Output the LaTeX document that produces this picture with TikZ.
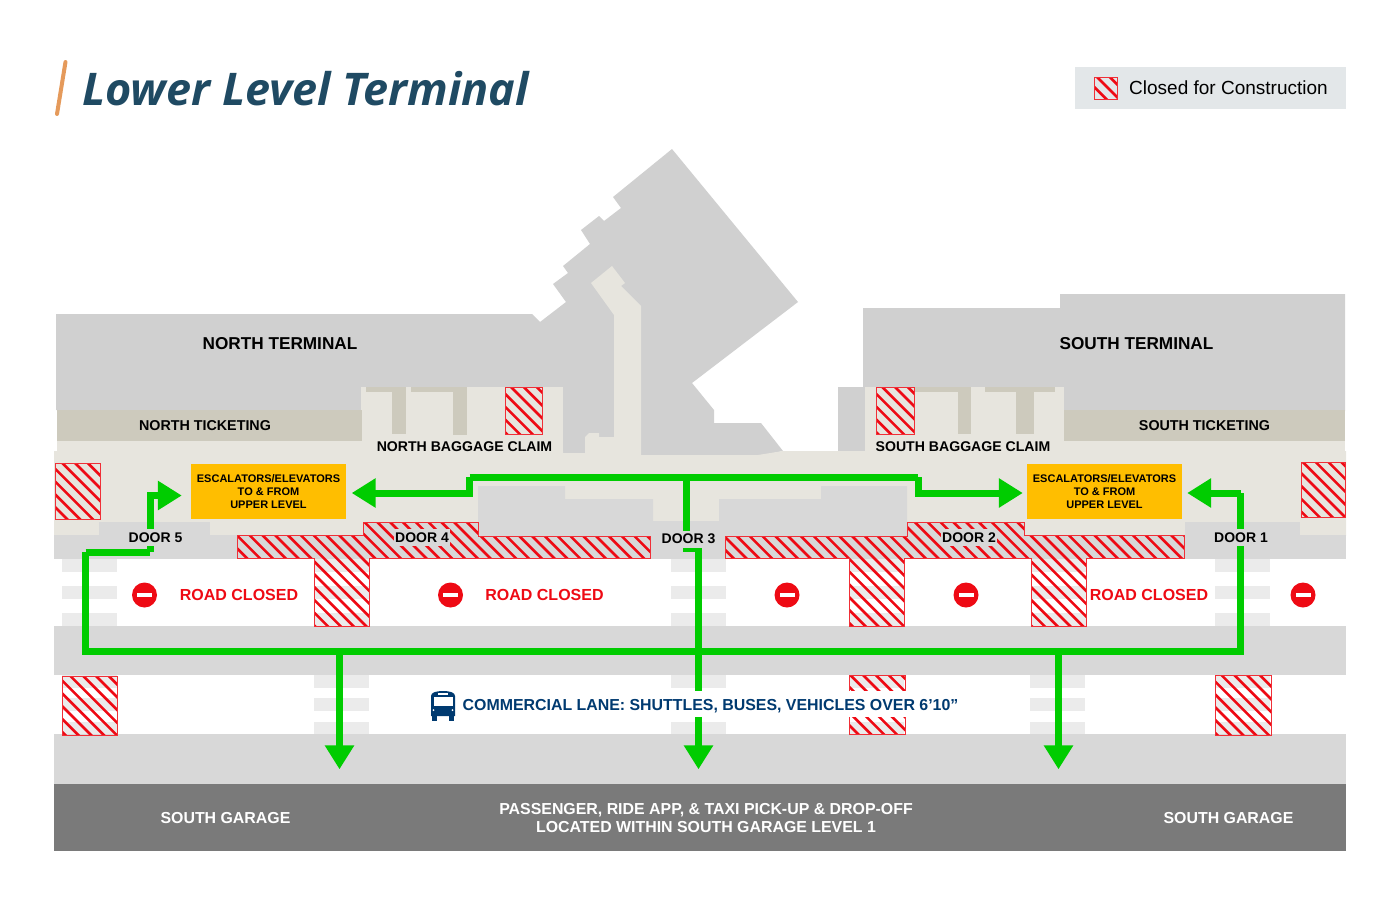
\documentclass[tikz,border=0pt]{standalone}
\usepackage{fontspec}
\setmainfont{Liberation Sans}
\newfontfamily\titlefont{Open Sans}
\usetikzlibrary{arrows.meta}
\definecolor{bldg}{HTML}{D0D0D0}
\definecolor{beige}{HTML}{E7E5DE}
\definecolor{tick}{HTML}{CDCABD}
\definecolor{road}{HTML}{D8D8D8}
\definecolor{cross}{HTML}{EBEBEB}
\definecolor{garagec}{HTML}{7A7A7A}
\definecolor{routeg}{HTML}{00CC00}
\definecolor{closedr}{HTML}{EE0A14}
\definecolor{escy}{HTML}{FFBE00}
\definecolor{navy}{HTML}{003A70}
\definecolor{titlec}{HTML}{1F4A63}
\definecolor{barc}{HTML}{E59A5B}
\definecolor{legc}{HTML}{E3E7E9}
\tikzset{
  route/.style={draw=routeg,line width=7pt,miter limit=10},
  routearrow/.style={route,-{Triangle[length=24pt,width=28pt]}},
  lbl/.style={font=\bfseries\fontsize{17.2}{17}\selectfont,text=black,inner sep=0pt},
  small/.style={font=\bfseries\fontsize{14.1}{14}\selectfont,text=black,inner sep=0pt},
  ticketl/.style={font=\bfseries\fontsize{14.3}{14}\selectfont,text=black,inner sep=0pt},
  doorl/.style={font=\bfseries\fontsize{14}{14}\selectfont,text=black,fill=road,inner xsep=1pt,inner ysep=0pt,minimum height=17pt},
  closedl/.style={font=\bfseries\fontsize{16}{17}\selectfont,text=closedr,inner sep=0pt},
  esc/.style={fill=escy,minimum width=155pt,minimum height=55pt,inner sep=0pt,align=center,
     font=\bfseries\fontsize{11}{13}\selectfont},
  garl/.style={font=\bfseries\fontsize{15.9}{18}\selectfont,text=white,inner sep=0pt,align=center},
  noent/.style={circle,fill=closedr,minimum size=25pt,inner sep=0pt},
}
\newcommand\hatched[2]{%
  \path[#1] #2;
  \begin{scope}
    \clip #2;
    \draw[closedr,line width=2.6pt]
      \foreach \k in {-900,-887.2,...,1350} { (\k,0) -- ({\k+900},900) };
  \end{scope}
  \draw[closedr!85!white,line width=1pt] #2;
}
\newcommand\crosswalk[2]{% x-left, three y rows given in #2
  \foreach \a/\b in {#2} { \fill[cross] (#1,\a) rectangle ({#1+55},\b); }
}
\newcommand\noentry[3]{%
  \node[noent] (#1) at (#2,#3) {};
  \fill[white] ({#2-7.5},{#3-1.9}) rectangle ({#2+7.5},{#3+1.9});
}
\begin{document}
\begin{tikzpicture}[x=1pt,y=-1pt]
\useasboundingbox (0,0) rectangle (1400,900);
% title and legend
\draw[barc,line width=4pt,line cap=round] (65.5,62) -- (57,114);
\node[anchor=west,inner sep=0pt,text=titlec,font=\titlefont\bfseries\itshape\fontsize{45}{45}\selectfont] (title) at (82,89) {Lower Level Terminal};
\fill[legc] (1075,67) rectangle (1346,109);
\hatched{fill=legc}{(1094,77) rectangle (1117,99)}
\node[anchor=west,inner sep=0pt,font=\fontsize{19}{19}\selectfont] (legend) at (1129,88) {Closed for Construction};
% buildings
\fill[bldg] (56,314) -- (532,314) -- (540,322) -- (566,302) -- (553,284) -- (568,273) -- (563,266) -- (590,244) -- (581,230) -- (599,216) -- (604,221) -- (621,208) -- (613,197) -- (672,149) -- (798,302) -- (692,383) -- (714,410) -- (714,423) -- (761,423) -- (783,451) -- (758,456) -- (563,456) -- (563,410) -- (56,410) -- cycle;
\fill[bldg] (863,308) -- (1060,308) -- (1060,294) -- (1345,294) -- (1345,411) -- (863,411) -- cycle;
\fill[bldg] (838,387) rectangle (865,452);
% beige floors
\fill[beige] (57,410) rectangle (362,452);
\fill[beige] (361,387) rectangle (563,454);
\fill[beige] (865,387) rectangle (1064,452);
\fill[beige] (1060,410) rectangle (1345,452);
\fill[beige] (54,451) -- (563,451) -- (563,453) -- (585,453) -- (585,437) -- (589,433) -- (599,433) -- (599,437) -- (614,437) -- (614,315) -- (591,283) -- (612,266) -- (625,283) -- (621,286) -- (641,306) -- (641,455) -- (758,455) -- (783,451) -- (1346,451) -- (1346,536) -- (54,536) -- cycle;
% ticketing
\fill[tick] (57,410) rectangle (362,441);
\fill[tick] (1064,410) rectangle (1345,441);
% baggage belts
\fill[tick] (366,387) rectangle (406,392);
\fill[tick] (392,387) rectangle (406,434);
\fill[tick] (411,387) rectangle (467,392);
\fill[tick] (453,387) rectangle (467,435);
\fill[tick] (915,387) rectangle (971,392);
\fill[tick] (958,387) rectangle (971,434);
\fill[tick] (985,387) rectangle (1055,392);
\fill[tick] (1016,387) rectangle (1034,434);
% road surfaces
\fill[road] (54,535) rectangle (1346,559);
\fill[road] (99,522) rectangle (210,536);
\fill[road] (1185,522) rectangle (1300,536);
\fill[road] (363,522) rectangle (478,536);
\fill[road] (907,522) rectangle (1024,536);
\fill[road] (478,486) -- (565,486) -- (565,499) -- (653,499) -- (653,521) -- (719,521) -- (719,499) -- (821,499) -- (821,486) -- (907,486) -- (907,536) -- (478,536) -- cycle;
\fill[road] (54,626) rectangle (1346,675);
\fill[road] (54,734) rectangle (1346,784);
% crosswalks
\foreach \x in {62,314,671,849,1031,1215} {\crosswalk{\x}{559/572,586/599,613/626}}
\foreach \x in {62,314,671,849,1030,1215} {\crosswalk{\x}{675/688,698/711,722/734}}
% closed areas
\hatched{fill=beige}{(55,463) rectangle (100,519)}
\hatched{fill=beige}{(1301,462) rectangle (1345,517)}
\hatched{fill=beige}{(505,387) rectangle (542,434)}
\hatched{fill=beige}{(876,387) rectangle (914,434)}
\hatched{}{(237,535) -- (363,535) -- (363,522) -- (478,522) -- (478,536) -- (650,536) -- (650,558) -- (369,558) -- (369,626) -- (314,626) -- (314,558) -- (237,558) -- cycle}
\hatched{}{(725,536) -- (907,536) -- (907,522) -- (1024,522) -- (1024,535) -- (1184,535) -- (1184,558) -- (1086,558) -- (1086,626) -- (1031,626) -- (1031,558) -- (904,558) -- (904,626) -- (849,626) -- (849,558) -- (725,558) -- cycle}
\hatched{}{(62,676) rectangle (117,735)}
\hatched{}{(1215,675) rectangle (1271,735)}
\hatched{}{(849,675) rectangle (905,734)}
% garage and escalators
\node[fill=garagec,minimum width=1292pt,minimum height=67pt,inner sep=0pt] (garage) at (700,817) {};
\node[esc] (escN) at (268.5,491.5) {ESCALATORS/ELEVATORS\\TO \& FROM\\UPPER LEVEL};
\node[esc] (escS) at (1104.5,491.5) {ESCALATORS/ELEVATORS\\TO \& FROM\\UPPER LEVEL};
% route
\coordinate (r1) at (150,552);
\coordinate (r2) at (85.5,552);
\coordinate (r3) at (85.5,651.5);
\coordinate (r4) at (1240.5,651.5);
\coordinate (r5) at (1240.5,493);
\coordinate (r6) at (150,495.5);
\coordinate (c1) at (469.5,493);
\coordinate (c2) at (469.5,477);
\coordinate (c3) at (918,477);
\coordinate (c4) at (918,493);
\coordinate (d1) at (686,477);
\coordinate (d2) at (686,548);
\coordinate (d3) at (698.5,548);
\coordinate (m1) at (339.5,651.5);
\coordinate (m2) at (1058.5,651.5);
\draw[route] (r2) -- (r1);
\draw[route] (r2) -- (r3) -- (r4) -- (r5);
\draw[routearrow,shorten >=5pt] (r5) -- (r5 -| escS.east);
\draw[routearrow,shorten >=9pt] (r1) -- (r6) -- (r6 -| escN.west);
\draw[routearrow,shorten >=5.5pt] (c2) -- (c1) -- (c1 -| escN.east);
\draw[route] (c2) -- (c3);
\draw[routearrow,shorten >=4pt] (c3) -- (c4) -- (c4 -| escS.west);
\draw[routearrow,shorten >=14pt] (d1) -- (d2) -- (d3) -- (d3 |- garage.north);
\draw[routearrow,shorten >=14pt] (m1) -- (m1 |- garage.north);
\draw[routearrow,shorten >=14pt] (m2) -- (m2 |- garage.north);
% no entry signs
\noentry{ne1}{144.5}{595}
\noentry{ne2}{450.5}{595}
\noentry{ne3}{787}{595}
\noentry{ne4}{966}{595}
\noentry{ne5}{1303}{595}
% labels
\node[lbl] (nt) at (280,343.7) {NORTH TERMINAL};
\node[lbl] (st) at (1136.5,343.7) {SOUTH TERMINAL};
\node[ticketl] (ntick) at (205,426) {NORTH TICKETING};
\node[ticketl] (stick) at (1204.5,426) {SOUTH TICKETING};
\node[small] (nbag) at (464.5,446.5) {NORTH BAGGAGE CLAIM};
\node[small] (sbag) at (963,446.5) {SOUTH BAGGAGE CLAIM};
\node[doorl] (door5) at (155.5,537.6) {DOOR 5};
\node[doorl] (door4) at (422,537.6) {DOOR 4};
\node[doorl] (door3) at (688.5,539) {DOOR 3};
\node[doorl] (door2) at (969,537.6) {DOOR 2};
\node[doorl] (door1) at (1241,537.6) {DOOR 1};
\node[closedl] (rc1) at (239,594.5) {ROAD CLOSED};
\node[closedl] (rc2) at (544.5,594.5) {ROAD CLOSED};
\node[closedl] (rc3) at (1149,594.5) {ROAD CLOSED};
\node[fill=white,text height=19pt,text depth=7pt,inner xsep=0pt,inner ysep=0pt,text=navy,font=\bfseries\fontsize{15.9}{16}\selectfont] (comm) at (710.5,704) {COMMERCIAL LANE: SHUTTLES, BUSES, VEHICLES OVER 6’10”};
% bus icon
\fill[navy] (431,696) .. controls (431,692.5) and (436,691) .. (443,691) .. controls (450,691) and (455,692.5) .. (455,696) -- (455,716) -- (431,716) -- cycle;
\fill[navy] (432,715) rectangle (437,720.5);
\fill[navy] (449,715) rectangle (454,720.5);
\fill[white] (433.5,697) rectangle (452.5,706);
\fill[white] (438,693.2) rectangle (448,694.8);
\fill[white] (433.5,710) circle (1);
\fill[white] (452.5,710) circle (1);
% garage labels
\node[garl] (g1) at (225.5,818) {SOUTH GARAGE};
\node[garl] (g2) at (1228.5,818) {SOUTH GARAGE};
\node[garl] (g3) at (706,818) {PASSENGER, RIDE APP, \& TAXI PICK-UP \& DROP-OFF\\LOCATED WITHIN SOUTH GARAGE LEVEL 1};
\end{tikzpicture}
\end{document}
